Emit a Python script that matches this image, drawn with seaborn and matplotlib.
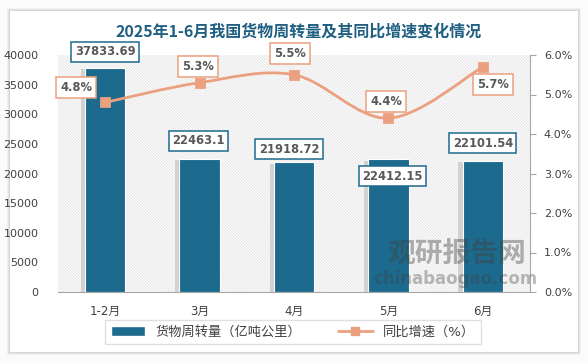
import numpy as np
import pandas as pd
import matplotlib
matplotlib.use('Agg')
import matplotlib.pyplot as plt
import matplotlib.patheffects as pe
import seaborn as sns
from matplotlib.patches import Rectangle, PathPatch
from matplotlib.path import Path
from matplotlib.lines import Line2D

# data
months = ['1-2月', '3月', '4月', '5月', '6月']
turnover = [37833.69, 22463.1, 21918.72, 22412.15, 22101.54]
growth = [4.8, 5.3, 5.5, 4.4, 5.7]
bar_labels = ['37833.69', '22463.1', '21918.72', '22412.15', '22101.54']
growth_labels = ['4.8%', '5.3%', '5.5%', '4.4%', '5.7%']

df = pd.DataFrame({'month': months, 'turnover': turnover, 'growth': growth})

sns.set_style('white')
plt.rcParams['font.family'] = ['DejaVu Sans', 'Noto Sans CJK SC']
plt.rcParams['hatch.linewidth'] = 0.5

blue = '#1c6a8e'
orange = '#eba080'
txt = '#404040'

fig = plt.figure(figsize=(5.88, 3.63), dpi=100)
fig.patch.set_facecolor('#fbfbfb')
W, H = 588, 363
# card with a soft shadow
for i, a in enumerate([0.04, 0.05, 0.06]):
    d = 3 - i
    fig.patches.append(Rectangle(((10 - d) / W, (11 - d) / H), (568 + 2 * d) / W, (341 + 2 * d) / H,
                                 transform=fig.transFigure, fc='black', alpha=a, lw=0, zorder=-3))
fig.patches.append(Rectangle((10 / W, 11 / H), 568 / W, 341 / H, transform=fig.transFigure,
                             fc='white', lw=0, zorder=-2))

ax = fig.add_axes([58 / W, 1 - 292 / H, 472 / W, 237 / H])
ax.patch.set_alpha(0)
ax.add_patch(Rectangle((0, 0), 1, 1, transform=ax.transAxes, fc='white', ec='#dcdcdc',
                       hatch='\\' * 12, lw=0, zorder=0))

sns.barplot(data=df, x='month', y='turnover', color=blue, width=0.43, saturation=1,
            edgecolor='white', linewidth=0.8, ax=ax, zorder=2)
for p in ax.patches[1:]:
    p.set_path_effects([pe.SimplePatchShadow(offset=(-3, -1), shadow_rgbFace='#888888', alpha=0.3),
                        pe.Normal()])

ax.set_xlim(-0.5, 4.5)
ax.set_ylim(0, 40000)
ax.set_yticks(range(0, 40001, 5000))
ax.set_xlabel('')
ax.set_ylabel('')
ax.tick_params(axis='y', length=0, labelsize=8, labelcolor=txt, pad=14)
ax.tick_params(axis='x', length=0, labelsize=8.5, labelcolor=txt, pad=9)
for s in ['left', 'top', 'right']:
    ax.spines[s].set_visible(False)
ax.spines['bottom'].set_color('#a6a6a6')

bar_off = [(0, 16), (-1, 18), (-5, 13), (4, -17), (0, 18)]
for i, (v, lab) in enumerate(zip(turnover, bar_labels)):
    ax.annotate(lab, (i, v), xytext=bar_off[i], textcoords='offset pixels', ha='center', va='center',
                fontsize=8.3, fontweight='bold', color='#595959', zorder=5,
                bbox=dict(boxstyle='square,pad=0.3', fc='white', ec=blue, lw=1.1))

ax2 = ax.twinx()
ax2.set_ylim(0, 6)
ax2.set_yticks(np.arange(0, 6.01, 1))
ax2.set_yticklabels([f'{t:.1f}%' for t in np.arange(0, 6.01, 1)])
ax2.tick_params(axis='y', direction='out', length=4, color='#a6a6a6', labelsize=8,
                labelcolor=txt, pad=6)
for s in ['left', 'top', 'bottom']:
    ax2.spines[s].set_visible(False)
ax2.spines['right'].set_color('#a6a6a6')

# smoothed line through the points (Catmull-Rom as Bezier)
xs = np.arange(len(growth), dtype=float)
ys = np.array(growth, dtype=float)
px = np.concatenate([[xs[0]], xs, [xs[-1]]])
py = np.concatenate([[ys[0]], ys, [ys[-1]]])
verts = [(xs[0], ys[0])]
codes = [Path.MOVETO]
for i in range(1, len(xs)):
    c1 = (px[i] + (px[i + 1] - px[i - 1]) / 6, py[i] + (py[i + 1] - py[i - 1]) / 6)
    c2 = (px[i + 1] - (px[i + 2] - px[i]) / 6, py[i + 1] - (py[i + 2] - py[i]) / 6)
    verts += [c1, c2, (px[i + 1], py[i + 1])]
    codes += [Path.CURVE4] * 3
ax2.add_patch(PathPatch(Path(verts, codes), fc='none', ec=orange, lw=2, zorder=3))
sns.scatterplot(x=xs, y=ys, marker='s', s=50, color=orange, edgecolor=orange, ax=ax2, zorder=4)

gr_off = [(-29, 15), (-2, 16), (-4, 21), (-2, 17), (10, -18)]
for i, (v, lab) in enumerate(zip(growth, growth_labels)):
    ax2.annotate(lab, (i, v), xytext=gr_off[i], textcoords='offset pixels', ha='center', va='center',
                 fontsize=8.3, fontweight='bold', color='#595959', zorder=5,
                 bbox=dict(boxstyle='square,pad=0.35', fc='white', ec=orange, lw=1.1))

fig.text(299 / W, 1 - 32 / H, '2025年1-6月我国货物周转量及其同比增速变化情况', ha='center', va='center',
         fontsize=11.5, fontweight='bold', color='#1f5f82', family=['Noto Sans CJK SC'])

# watermark
fig.text(457 / W, 1 - 254 / H, '观研报告网', ha='center', va='center', fontsize=20, fontweight='bold',
         color='#404040', alpha=0.4, family=['Noto Sans CJK SC'])
fig.text(455 / W, 1 - 279 / H, 'chinabaogao.com', ha='center', va='center', fontsize=12,
         fontweight='bold', color='#404040', alpha=0.35)

handles = [Rectangle((0, 0), 1, 1, fc=blue),
           Line2D([], [], color=orange, lw=2, marker='s', markersize=6)]
leg = fig.legend(handles, ['货物周转量（亿吨公里）', '同比增速（%）'], loc='center', ncol=2,
                 bbox_to_anchor=(293 / W, 1 - 332 / H), frameon=True, fancybox=False, edgecolor='#d9d9d9',
                 fontsize=9.5, handlelength=2.6, columnspacing=2.8, borderpad=0.45)
for t in leg.get_texts():
    t.set_color(txt)

fig.savefig('out.png', dpi=100, facecolor=fig.get_facecolor())
